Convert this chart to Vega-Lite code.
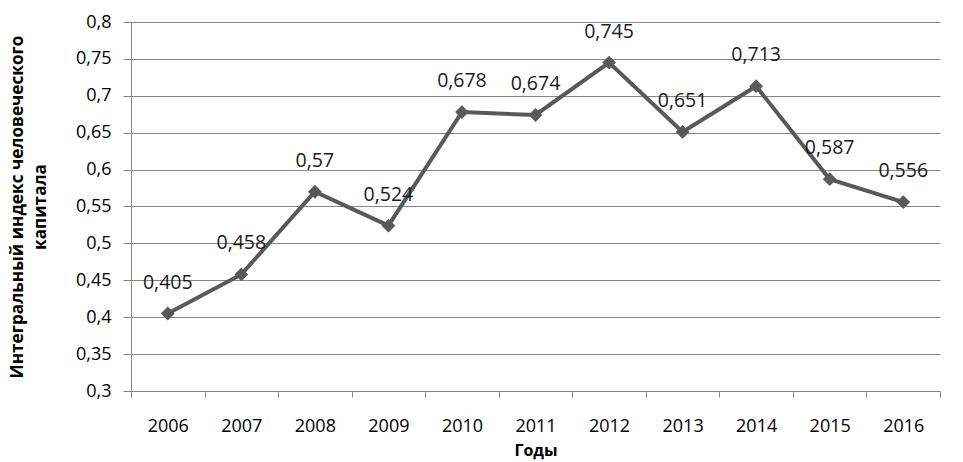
{
  "$schema": "https://vega.github.io/schema/vega-lite/v6.json",
  "autosize": {"type": "none"},
  "width": 809,
  "height": 369,
  "padding": {"left": 131, "top": 22, "right": 23, "bottom": 71},
  "background": "white",
  "config": {
    "font": "Open Sans",
    "view": {"stroke": null}
  },
  "data": {
    "values": [
      {"year": "2006", "v": 0.405, "label": "0,405"},
      {"year": "2007", "v": 0.458, "label": "0,458"},
      {"year": "2008", "v": 0.57, "label": "0,57"},
      {"year": "2009", "v": 0.524, "label": "0,524"},
      {"year": "2010", "v": 0.678, "label": "0,678"},
      {"year": "2011", "v": 0.674, "label": "0,674"},
      {"year": "2012", "v": 0.745, "label": "0,745"},
      {"year": "2013", "v": 0.651, "label": "0,651"},
      {"year": "2014", "v": 0.713, "label": "0,713"},
      {"year": "2015", "v": 0.587, "label": "0,587"},
      {"year": "2016", "v": 0.556, "label": "0,556"}
    ]
  },
  "encoding": {
    "x": {
      "field": "year", "type": "ordinal",
      "scale": {"type": "band", "paddingInner": 0, "paddingOuter": 0},
      "axis": {
        "title": "Годы", "titleFont": "Open Sans", "titleFontSize": 16, "titleFontWeight": "bold", "titleColor": "black", "titlePadding": 7,
        "labelAngle": 0, "labelFontSize": 18, "labelColor": "black", "labelPadding": 20,
        "tickBand": "extent", "tickSize": 6, "tickColor": "#868686", "domainColor": "#868686", "grid": false
      }
    },
    "y": {
      "field": "v", "type": "quantitative",
      "scale": {"domain": [0.3, 0.8], "nice": false, "zero": false},
      "axis": {
        "title": ["Интегральный индекс человеческого", "капитала"],
        "titleFontSize": 17.2, "titleFontWeight": "bold", "titleColor": "black", "titlePadding": 26, "titleLineHeight": 23,
        "values": [0.3, 0.35, 0.4, 0.45, 0.5, 0.55, 0.6, 0.65, 0.7, 0.75, 0.8],
        "labelExpr": "replace(format(datum.value, '.2~f'), '.', ',')",
        "labelFontSize": 18, "labelColor": "black", "labelPadding": 12,
        "tickSize": 8, "tickColor": "#868686", "domainColor": "#868686",
        "grid": true, "gridColor": "#868686"
      }
    }
  },
  "layer": [
    {
      "mark": {"type": "line", "color": "#595959", "strokeWidth": 4,
        "point": {"shape": "diamond", "size": 190, "filled": true, "color": "#595959", "opacity": 1}},
      "encoding": {"y": {"field": "v", "type": "quantitative"}}
    },
    {
      "mark": {"type": "text", "dy": -31, "fontSize": 19.5, "color": "#1a1a1a"},
      "encoding": {"text": {"field": "label"}}
    }
  ]
}
